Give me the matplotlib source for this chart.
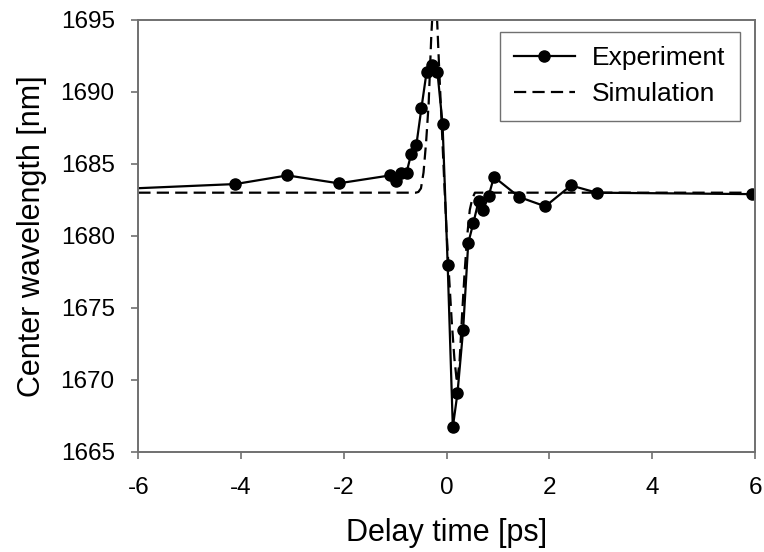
import matplotlib
matplotlib.use("Agg")
import matplotlib.pyplot as plt

plt.rcParams['font.family'] = ['Liberation Sans', 'DejaVu Sans']
plt.rcParams['axes.unicode_minus'] = False

# Experiment (delay ps, center wavelength nm); first point lies off-axis to the left
exp_delay = [-10.0, -4.11, -3.10, -2.10, -1.10, -0.99, -0.89, -0.78, -0.69, -0.59,
             -0.49, -0.39, -0.29, -0.18, -0.08, 0.02, 0.12, 0.21, 0.32, 0.42,
             0.52, 0.62, 0.71, 0.82, 0.92, 1.41, 1.92, 2.42, 2.92, 5.94]
exp_wl = [1682.7, 1683.6, 1684.2, 1683.65, 1684.2, 1683.8, 1684.4, 1684.4, 1685.7, 1686.3,
          1688.9, 1691.4, 1691.9, 1691.4, 1687.8, 1678.0, 1666.7, 1669.05, 1673.45, 1679.5,
          1680.9, 1682.4, 1681.8, 1682.8, 1684.1, 1682.7, 1682.05, 1683.5, 1683.0, 1682.9]

# Simulation curve
sim_delay = [-6.0, -0.6, -0.55, -0.5, -0.45, -0.4, -0.35, -0.3, -0.25, -0.2, -0.15, -0.1,
             -0.05, 0.0, 0.05, 0.1, 0.15, 0.2, 0.25, 0.3, 0.35, 0.4, 0.45, 0.5, 0.55, 0.6, 6.0]
sim_wl = [1683.0, 1683.0, 1683.05, 1683.3, 1684.4, 1686.5, 1689.2, 1693.8, 1697.2, 1696.2, 1692.0, 1688.0,
          1684.0, 1680.2, 1677.0, 1674.0, 1671.5, 1669.8, 1671.2, 1674.5, 1677.5, 1680.0, 1681.8, 1682.6, 1683.0, 1683.0, 1683.0]

fig = plt.figure(figsize=(7.64, 5.52), dpi=100)
ax = fig.add_axes([138.3 / 764, 1 - 451.7 / 552, (755 - 138.3) / 764, (451.7 - 20) / 552])

ax.plot(exp_delay, exp_wl, color='black', lw=1.6, marker='o', ms=8, label='Experiment')
ax.plot(sim_delay, sim_wl, color='black', lw=1.6, ls=(0, (5.5, 2.8)), label='Simulation')

ax.set_xlim(-6, 6)
ax.set_ylim(1665, 1695)
ax.set_xticks([-6, -4, -2, 0, 2, 4, 6])
ax.set_yticks([1665, 1670, 1675, 1680, 1685, 1690, 1695])
ax.tick_params(direction='out', length=5, width=1.2, color='#707070', labelsize=17.5)
ax.tick_params(axis='x', pad=13)
ax.tick_params(axis='y', pad=12)
for sp in ax.spines.values():
    sp.set_color('#707070')
    sp.set_linewidth(1.4)

ax.set_xlabel('Delay time [ps]', fontsize=22, labelpad=14)
ax.set_ylabel('Center wavelength [nm]', fontsize=22, labelpad=10)

leg = ax.legend(loc='upper right', bbox_to_anchor=((740 - 138.3) / (755 - 138.3), (451.7 - 31.7) / (451.7 - 20)),
                borderaxespad=0, fontsize=19, handlelength=2.3, handletextpad=0.65, numpoints=1,
                fancybox=False, framealpha=1, edgecolor='#707070', borderpad=0.55, labelspacing=0.45)
leg.get_frame().set_linewidth(1.0)

fig.savefig('out.png', dpi=100)
